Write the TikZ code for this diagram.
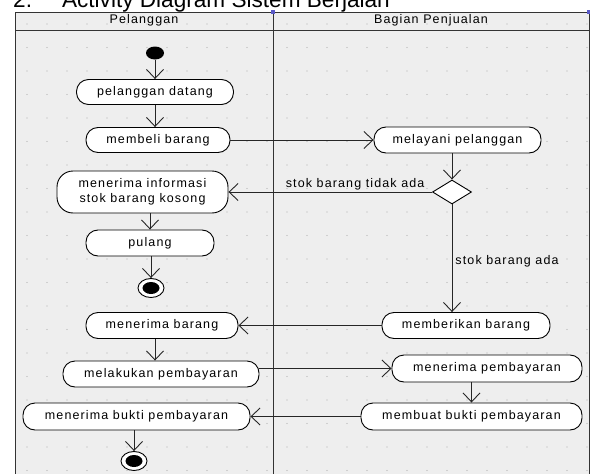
\documentclass[tikz,border=0pt]{standalone}
\usepackage{fontspec}
\setmainfont{Liberation Sans}
\newfontfamily\lanefont[LetterSpace=9]{Liberation Sans}
\usetikzlibrary{arrows.meta,shapes.geometric}
\definecolor{lanebg}{HTML}{EEEEEE}
\definecolor{griddot}{HTML}{B0B0B0}
\definecolor{framecol}{HTML}{333333}
\definecolor{handle}{HTML}{5A5AC8}

\begin{document}
\begin{tikzpicture}[x=1pt,y=-1pt,
  act/.style={draw=black, fill=white, rounded corners=12pt, line width=0.9pt,
    minimum height=25pt, inner sep=0pt, align=center,
    font=\lanefont\fontsize{12.5}{14.5}\selectfont},
  flow/.style={draw=black!85, line width=0.9pt, -{Straight Barb[length=9pt,width=17pt]}},
  lbl/.style={inner sep=0pt, font=\lanefont\fontsize{12.5}{14}\selectfont},
  initial/.style={ellipse, fill=black, minimum width=18pt, minimum height=13pt, inner sep=0pt},
  final/.style={ellipse, draw=black, fill=white, line width=0.9pt,
    minimum width=26pt, minimum height=19pt, inner sep=0pt,
    path picture={\fill[black] (path picture bounding box.center) ellipse [x radius=8.5pt, y radius=6pt];}},
  decision/.style={diamond, draw=black, fill=white, line width=0.9pt,
    minimum width=39pt, minimum height=24pt, inner sep=0pt}]

\clip (0,0) rectangle (590,474);
\useasboundingbox (0,0) rectangle (590,474);
\fill[white] (0,0) rectangle (590,474);

% title
\node[anchor=base west, inner sep=0pt, font=\fontsize{22.6}{26}\selectfont] (title) at (13,7)
  {2.\hspace{30pt}Activity Diagram Sistem Berjalan};

% swimlane frame
\fill[lanebg] (15,12) rectangle (589,480);
\foreach \x in {27,47,...,587}
  \foreach \y in {24,47.5,...,474}
    \fill[griddot] (\x,\y) circle (0.6pt);
\draw[framecol, line width=0.9pt] (15,480) -- (15,12) -- (589,12) -- (589,480);
\draw[framecol, line width=0.9pt] (15,30) -- (589,30);
\draw[framecol, line width=0.9pt] (273,12) -- (273,480);
\fill[handle] (271,10) rectangle (275,14);
\fill[handle] (587,10) rectangle (591,14);
\node[lbl] (laneA) at (144,20) {Pelanggan};
\node[lbl] (laneB) at (431,20) {Bagian Penjualan};

% Pelanggan lane
\node[initial] (start) at (155,53) {};
\node[act, minimum width=157pt] (pd) at (155,92) {pelanggan datang};
\node[act, minimum width=144pt] (mb) at (158,140) {membeli barang};
\node[act, minimum width=171pt, minimum height=42pt, rounded corners=16pt] (mi) at (142.5,192)
  {menerima informasi\\stok barang kosong};
\node[act, minimum width=128pt, minimum height=26pt] (pu) at (150,243) {pulang};
\node[final] (end1) at (151,288) {};
\node[act, minimum width=152pt, minimum height=26pt] (mr) at (162,325.5) {menerima barang};
\node[act, minimum width=196pt, minimum height=26pt] (lp) at (161,374) {melakukan pembayaran};
\node[act, minimum width=227pt, minimum height=27pt] (mbp) at (136.5,416.5) {menerima bukti pembayaran};
\node[final] (end2) at (134,461) {};

% Bagian Penjualan lane
\node[act, minimum width=167pt, minimum height=26pt] (ml) at (457.5,140) {melayani pelanggan};
\node[decision] (dec) at (452,192) {};
\node[act, minimum width=168pt, minimum height=26pt] (mbr) at (466,325.5) {memberikan barang};
\node[act, minimum width=190pt, minimum height=27pt] (mpb) at (487,368.5) {menerima pembayaran};
\node[act, minimum width=221pt, minimum height=27pt] (mbk) at (471.5,416.5) {membuat bukti pembayaran};

% control flows
\draw[flow] (start) -- (pd);
\draw[flow] (pd.south) -- (pd.south |- mb.north);
\draw[flow] (mb.east) -- (ml.west);
\draw[flow] (dec.north |- ml.south) -- (dec.north);
\draw[flow] (dec.west) -- node[lbl, pos=0.035, anchor=base east, yshift=5pt] {stok barang tidak ada} (mi.east |- dec.west);
\draw[flow] (pu.north |- mi.south) -- (pu.north);
\draw[flow] (end1.north |- pu.south) -- (end1.north);
\draw[flow] (dec.south) -- node[lbl, pos=0.53, anchor=west, xshift=3pt] {stok barang ada} (dec.south |- mbr.north);
\draw[flow] (mbr.west) -- (mr.east);
\draw[flow] ([xshift=-7pt]mr.south) -- ([xshift=-7pt]mr.south |- lp.north);
\draw[flow] (lp.east |- mpb.west) -- (mpb.west);
\draw[flow] (mbk.north |- mpb.south) -- (mbk.north);
\draw[flow] (mbk.west) -- (mbp.east);
\draw[flow] (end2.north |- mbp.south) -- (end2.north);
\end{tikzpicture}
\end{document}
